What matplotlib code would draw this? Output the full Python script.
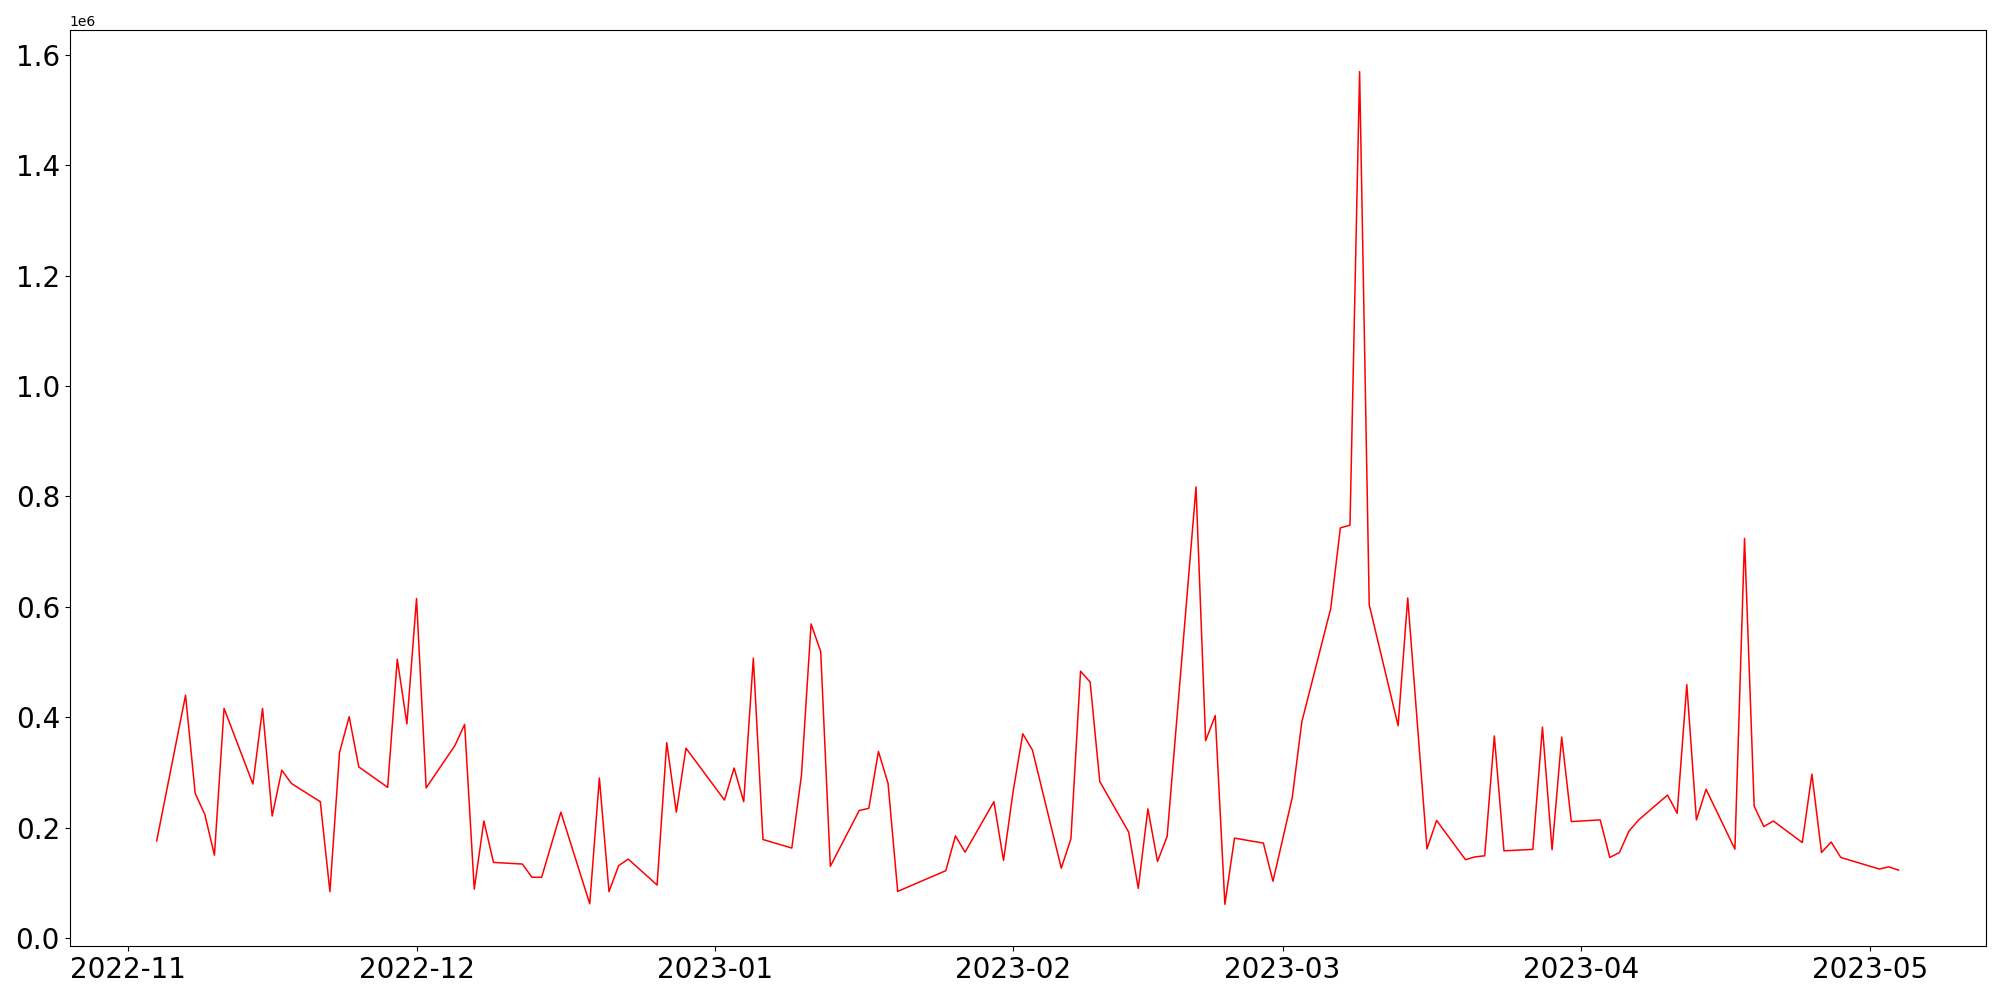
import matplotlib
matplotlib.use("Agg")
import matplotlib.pyplot as plt
import pandas as pd

dates = [
    "2022-11-04", "2022-11-07", "2022-11-08", "2022-11-09", "2022-11-10", "2022-11-11",
    "2022-11-14", "2022-11-15", "2022-11-16", "2022-11-17", "2022-11-18",
    "2022-11-21", "2022-11-22", "2022-11-23", "2022-11-24", "2022-11-25",
    "2022-11-28", "2022-11-29", "2022-11-30", "2022-12-01", "2022-12-02",
    "2022-12-05", "2022-12-06", "2022-12-07", "2022-12-08", "2022-12-09",
    "2022-12-12", "2022-12-13", "2022-12-14", "2022-12-16",
    "2022-12-19", "2022-12-20", "2022-12-21", "2022-12-22", "2022-12-23",
    "2022-12-26", "2022-12-27", "2022-12-28", "2022-12-29",
    "2023-01-02", "2023-01-03", "2023-01-04", "2023-01-05", "2023-01-06",
    "2023-01-09", "2023-01-10", "2023-01-11", "2023-01-12", "2023-01-13",
    "2023-01-16", "2023-01-17", "2023-01-18", "2023-01-19", "2023-01-20",
    "2023-01-25", "2023-01-26", "2023-01-27",
    "2023-01-30", "2023-01-31", "2023-02-01", "2023-02-02", "2023-02-03",
    "2023-02-06", "2023-02-07", "2023-02-08", "2023-02-09", "2023-02-10",
    "2023-02-13", "2023-02-14", "2023-02-15", "2023-02-16", "2023-02-17",
    "2023-02-20", "2023-02-21", "2023-02-22", "2023-02-23", "2023-02-24",
    "2023-02-27", "2023-02-28", "2023-03-02", "2023-03-03",
    "2023-03-06", "2023-03-07", "2023-03-08", "2023-03-09", "2023-03-10",
    "2023-03-13", "2023-03-14", "2023-03-16", "2023-03-17",
    "2023-03-20", "2023-03-21", "2023-03-22", "2023-03-23", "2023-03-24",
    "2023-03-27", "2023-03-28", "2023-03-29", "2023-03-30", "2023-03-31",
    "2023-04-03", "2023-04-04", "2023-04-05", "2023-04-06", "2023-04-07",
    "2023-04-10", "2023-04-11", "2023-04-12", "2023-04-13", "2023-04-14",
    "2023-04-17", "2023-04-18", "2023-04-19", "2023-04-20", "2023-04-21",
    "2023-04-24", "2023-04-25", "2023-04-26", "2023-04-27", "2023-04-28",
    "2023-05-02", "2023-05-03", "2023-05-04",
]

values = [
    176000, 440000, 262000, 224000, 150000, 416000,
    279000, 416000, 221000, 304000, 280000,
    247000, 84000, 336000, 401000, 310000,
    273000, 505000, 388000, 615000, 272000,
    349000, 387000, 88600, 212000, 137000,
    134000, 110000, 110000, 228000,
    62000, 290000, 84000, 131000, 143000,
    96000, 354000, 228000, 344000,
    250000, 308000, 247000, 507000, 178500,
    163000, 295000, 569000, 519000, 130000,
    231000, 235000, 338000, 280000, 84500,
    122000, 185000, 155600,
    247000, 140500, 266000, 370000, 340600,
    126600, 179600, 483500, 463600, 283500,
    192000, 90000, 234000, 138700, 184000,
    817000, 357600, 403000, 61000, 181000,
    172000, 103000, 254500, 392000,
    597000, 743000, 748000, 1569600, 603600,
    384600, 616000, 161500, 213000,
    142000, 147000, 149000, 366000, 158000,
    160600, 382000, 160000, 364000, 211000,
    214000, 146000, 155000, 194000, 214000,
    259000, 226000, 459000, 214000, 269500,
    161000, 724000, 239000, 202000, 212000,
    173000, 297000, 155000, 174000, 146000,
    125000, 129000, 123000,
]

x = pd.to_datetime(dates)

fig, ax = plt.subplots(figsize=(20, 10), dpi=100)
ax.plot(x, values, color="red", linewidth=1.1)
ax.tick_params(axis="both", labelsize=20)
fig.subplots_adjust(left=0.0348, right=0.9928, bottom=0.054, top=0.97)
fig.savefig("out.png", dpi=100)
